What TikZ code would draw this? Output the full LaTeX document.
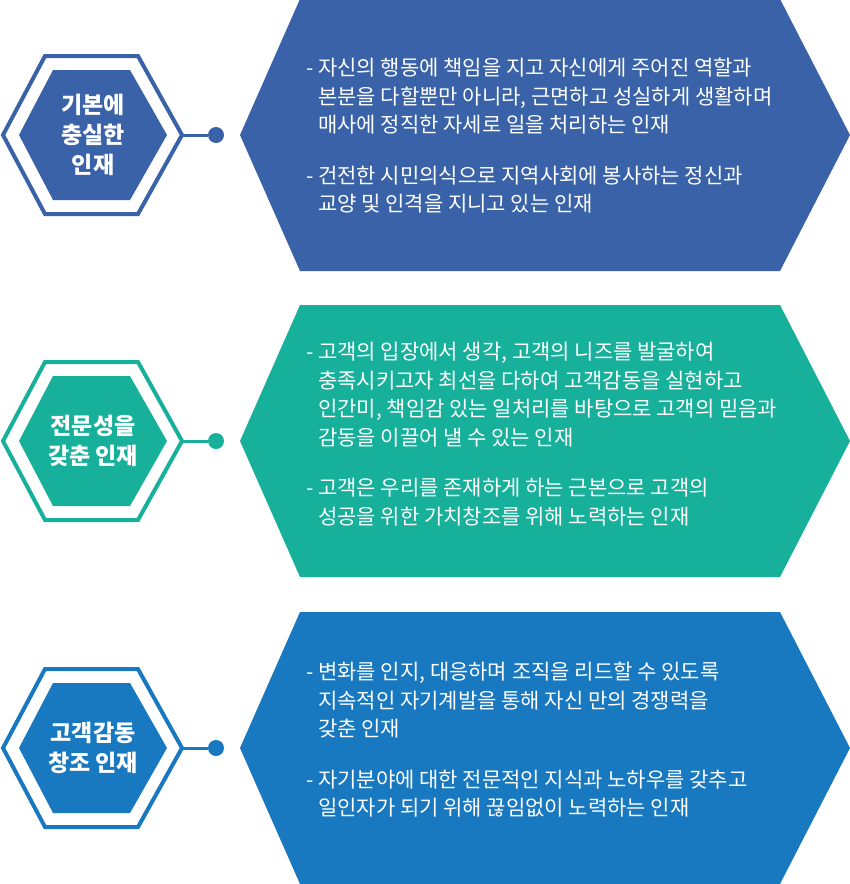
\documentclass[tikz,border=0pt]{standalone}
\usepackage{fontspec}
\setmainfont{Noto Sans CJK KR}
\usetikzlibrary{positioning}
\definecolor{blueA}{HTML}{3A62A8}
\definecolor{tealB}{HTML}{17B09A}
\definecolor{blueC}{HTML}{1878C0}
\tikzset{
  badge/.style={font=\fontsize{23}{30}\selectfont\bfseries, text=white, align=center},
  desc/.style={font=\fontsize{21}{28.5}\selectfont, text=white, align=left, anchor=north west, inner sep=0pt},
}
\newcommand{\ind}{\phantom{- }}
% one row: #1 colour, #2 centre y, #3 name
\newcommand{\hexrow}[3]{%
  \fill[#1] (240,#2) -- (300,#2-136) -- (780,#2-136) -- (850,#2) -- (780,#2+136) -- (300,#2+136) -- cycle;
  \draw[#1, line width=4] (3,#2) -- (45,#2-79) -- (138,#2-79) -- (182,#2) -- (138,#2+79) -- (45,#2+79) -- cycle;
  \fill[#1] (19,#2) -- (53,#2-65) -- (130,#2-65) -- (167,#2) -- (130,#2+65) -- (53,#2+65) -- cycle;
  \coordinate (#3r) at (182,#2);
  \node[circle, fill=#1, minimum size=16, inner sep=0] (#3dot) at (216,#2) {};
  \draw[#1, line width=3] (#3r) -- (#3dot);
}
\begin{document}
\begin{tikzpicture}[x=1pt,y=-1pt]
\useasboundingbox (0,0) rectangle (850,884);
\hexrow{blueA}{135}{a}
\hexrow{tealB}{441}{b}
\hexrow{blueC}{748}{c}

\node[badge] (alabel) at (93,135) {기본에\\충실한\\인재};
\node[badge] (blabel) at (93,441) {전문성을\\갖춘 인재};
\node[badge] (clabel) at (93,748) {고객감동\\창조 인재};

\node[desc] (atext) at (306,58) {- 자신의 행동에 책임을 지고 자신에게 주어진 역할과\\
\ind 본분을 다할뿐만 아니라, 근면하고 성실하게 생활하며\\
\ind 매사에 정직한 자세로 일을 처리하는 인재\\[22pt]
- 건전한 시민의식으로 지역사회에 봉사하는 정신과\\
\ind 교양 및 인격을 지니고 있는 인재};

\node[desc] (btext) at (306,342) {- 고객의 입장에서 생각, 고객의 니즈를 발굴하여\\
\ind 충족시키고자 최선을 다하여 고객감동을 실현하고\\
\ind 인간미, 책임감 있는 일처리를 바탕으로 고객의 믿음과\\
\ind 감동을 이끌어 낼 수 있는 인재\\[22pt]
- 고객은 우리를 존재하게 하는 근본으로 고객의\\
\ind 성공을 위한 가치창조를 위해 노력하는 인재};

\node[desc] (ctext) at (306,662) {- 변화를 인지, 대응하며 조직을 리드할 수 있도록\\
\ind 지속적인 자기계발을 통해 자신 만의 경쟁력을\\
\ind 갖춘 인재\\[22pt]
- 자기분야에 대한 전문적인 지식과 노하우를 갖추고\\
\ind 일인자가 되기 위해 끊임없이 노력하는 인재};
\end{tikzpicture}
\end{document}
